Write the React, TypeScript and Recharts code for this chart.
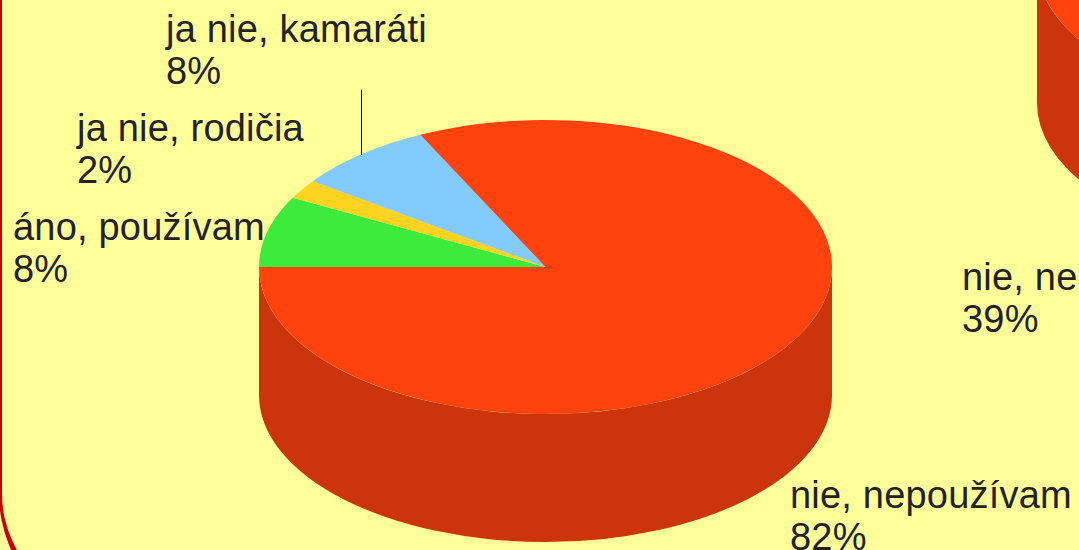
import { PieChart, Pie } from 'recharts';

const leftNames = ['áno, používam', 'ja nie, rodičia', 'ja nie, kamaráti', 'nie, nepoužívam'];
const leftValues = [7.8, 2.1, 7.9, 82.2];
const leftColors = ['#3deb3d', '#ffd320', '#83caff', '#ff420e'];

// only the red slice of the second pie is inside the picture
const rightNames = ['nie, ne', 'zvyšok'];
const rightValues = [39, 61];
const rightColors = ['#ff420e', '#83caff'];

const WALL_COLOR = '#cc350b';
const SQUASH = 147 / 286.5;
const FONT_SIZE = 38;
const LINE_HEIGHT = 42;

const leftData = leftNames.map((name, i) => ({ name, value: leftValues[i], fill: leftColors[i] }));
const rightData = rightNames.map((name, i) => ({ name, value: rightValues[i], fill: rightColors[i] }));

// first line baseline of each label
const labelSpots: Record<string, [number, number]> = {
  'áno, používam': [13, 240],
  'ja nie, rodičia': [77, 141],
  'ja nie, kamaráti': [166, 42],
  'nie, nepoužívam': [790, 508],
  'nie, ne': [962, 290],
};

function point(cx: number, cy: number, r: number, deg: number) {
  const a = (deg * Math.PI) / 180;
  return [cx + r * Math.cos(a), cy - r * SQUASH * Math.sin(a)];
}

function TopSlice(props: any) {
  const { cx, cy, outerRadius: r, startAngle, endAngle, fill } = props;
  const [x1, y1] = point(cx, cy, r, startAngle);
  const [x2, y2] = point(cx, cy, r, endAngle);
  const large = Math.abs(startAngle - endAngle) > 180 ? 1 : 0;
  const d = `M${cx},${cy}L${x1},${y1}A${r},${r * SQUASH} 0 ${large} 1 ${x2},${y2}Z`;
  return <path d={d} fill={fill} />;
}

function wallShape(depth: number) {
  return function WallSlice(props: any) {
    const { cx, cy, outerRadius: r, startAngle, endAngle } = props;
    const hi = Math.max(startAngle, endAngle);
    const lo = Math.min(startAngle, endAngle);
    const parts: string[] = [];
    for (const [a, b] of [[-180, 0], [180, 360]]) {
      const from = Math.min(hi, b);
      const to = Math.max(lo, a);
      if (from <= to) continue;
      const [x1, y1] = point(cx, cy, r, from);
      const [x2, y2] = point(cx, cy, r, to);
      const ry = r * SQUASH;
      parts.push(
        `M${x1},${y1}A${r},${ry} 0 0 1 ${x2},${y2}L${x2},${y2 + depth}A${r},${ry} 0 0 0 ${x1},${y1 + depth}Z`
      );
    }
    return <path d={parts.join('')} fill={WALL_COLOR} />;
  };
}

function renderLabel(props: any) {
  const spot = labelSpots[props.name];
  if (!spot) return null;
  const [x, y] = spot;
  return (
    <text x={x} y={y} fill="#222" fontSize={FONT_SIZE} letterSpacing={0.2} fontFamily="'Liberation Sans', Arial, sans-serif">
      <tspan x={x} y={y}>{props.name}</tspan>
      <tspan x={x} y={y + LINE_HEIGHT}>{Math.round(props.percent * 100)}%</tspan>
    </text>
  );
}

function renderLeader(props: any) {
  if (props.name !== 'ja nie, kamaráti') return <g />;
  return <line x1={361.5} y1={90} x2={361.5} y2={155} stroke="#000" strokeWidth={1} />;
}

export default function App() {
  return (
    <div style={{ position: 'absolute', left: 0, top: 0, width: 1079, height: 550, overflow: 'hidden', background: '#ffff99' }}>
      <div
        style={{
          position: 'absolute',
          left: -1,
          top: -400,
          width: 1300,
          height: 1012,
          borderStyle: 'solid',
          borderColor: '#cc0000',
          borderWidth: '3px 3px 14px 3px',
          borderRadius: 135,
        }}
      />
      <div style={{ position: 'absolute', left: 0, top: 0 }}>
        <PieChart width={1079} height={550} margin={{ top: 0, right: 0, bottom: 0, left: 0 }}>
          <Pie data={rightData} dataKey="value" cx={1323} cy={-37} outerRadius={286} startAngle={320} endAngle={-40}
            stroke="none" shape={wallShape(140)} isAnimationActive={false} />
          <Pie data={rightData} dataKey="value" nameKey="name" cx={1323} cy={-37} outerRadius={286} startAngle={320} endAngle={-40}
            stroke="none" shape={TopSlice} label={renderLabel} labelLine={false} isAnimationActive={false} />
          <Pie data={leftData} dataKey="value" cx={545.5} cy={267} outerRadius={286.5} startAngle={180} endAngle={-180}
            stroke="none" shape={wallShape(128)} isAnimationActive={false} />
          <Pie data={leftData} dataKey="value" nameKey="name" cx={545.5} cy={267} outerRadius={286.5} startAngle={180} endAngle={-180}
            stroke="none" shape={TopSlice} label={renderLabel} labelLine={renderLeader} isAnimationActive={false} />
        </PieChart>
      </div>
    </div>
  );
}
